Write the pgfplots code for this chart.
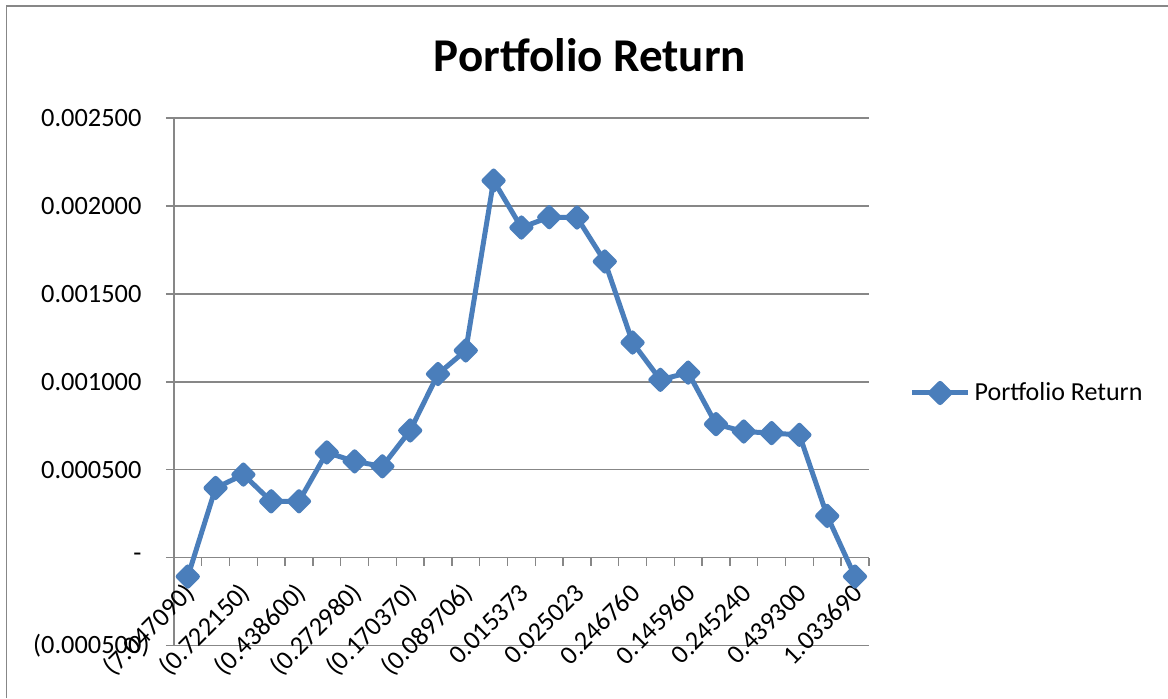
\documentclass[border=0pt]{standalone}
\usepackage{pgfplots}
\pgfplotsset{compat=1.18}
\usepackage{fontspec}
\setmainfont{Carlito}
\definecolor{excelblue}{HTML}{4A7EBB}
\definecolor{gridgray}{HTML}{878787}
\begin{document}
\begin{tikzpicture}
\useasboundingbox (0,0) rectangle (584pt,349pt);
\draw[gridgray, line width=0.75pt] (3.25pt,0pt) -- (3.25pt,346pt) -- (584pt,346pt);
\node[anchor=base, font=\fontsize{23.5}{28}\selectfont\bfseries] at (295pt,313pt) {Portfolio Return};
\begin{axis}[
  at={(86.95pt,26.25pt)}, anchor=south west,
  scale only axis, width=347.5pt, height=263.75pt,
  xmin=-0.5, xmax=24.5, ymin=-0.0005, ymax=0.0025,
  axis x line*=middle, axis y line*=left,
  axis line style={gridgray, line width=0.75pt},
  tick align=outside,
  major tick length=4pt,
  tick style={gridgray, line width=0.75pt},
  xtick={-0.5,0.5,...,24.5}, xticklabels={},
  extra x ticks={0,2,...,24},
  extra x tick labels={{(7.047090)},{(0.722150)},{(0.438600)},{(0.272980)},{(0.170370)},{(0.089706)},{0.015373},{0.025023},{0.246760},{0.145960},{0.245240},{0.439300},{1.033690}},
  extra x tick style={major tick length=0pt, tick style={draw=none},
    xticklabel style={xshift=1.5pt, yshift=-15.5pt, rotate=45, anchor=east, inner sep=0pt}},
  ytick={-0.0005,0,0.0005,0.001,0.0015,0.002,0.0025},
  yticklabels={{(0.000500\rlap{)}},{-\hspace{6pt}},{0.000500},{0.001000},{0.001500},{0.002000},{0.002500}},
  scaled y ticks=false,
  yticklabel style={anchor=east, inner sep=0pt, xshift=-12pt},
  ticklabel style={font=\fontsize{13.2}{15}\selectfont},
  ymajorgrids, grid style={gridgray, line width=0.75pt},
  clip=false,
  legend style={at={(axis description cs:1.058,0.4787)}, anchor=west, draw=none, fill=none, inner sep=0pt,
    font=\fontsize{13}{15}\selectfont},
  legend image code/.code={\draw[mark repeat=2,mark phase=2] plot coordinates {(0pt,0pt) (14pt,0pt) (28pt,0pt)};},
]
\addplot[color=excelblue, line width=2.5pt, line join=round, mark=square*, mark size=3.4pt, mark options={rotate=45, solid}]
coordinates {
(0,-0.000108) (1,0.000396) (2,0.000472) (3,0.000320) (4,0.000320)
(5,0.000598) (6,0.000547) (7,0.000519) (8,0.000723) (9,0.001044)
(10,0.001178) (11,0.002144) (12,0.001877) (13,0.001936) (14,0.001934)
(15,0.001684) (16,0.001223) (17,0.001011) (18,0.001052) (19,0.000759)
(20,0.000717) (21,0.000708) (22,0.000698) (23,0.000237) (24,-0.000108)
};
\addlegendentry{Portfolio Return}
\end{axis}
\end{tikzpicture}
\end{document}
